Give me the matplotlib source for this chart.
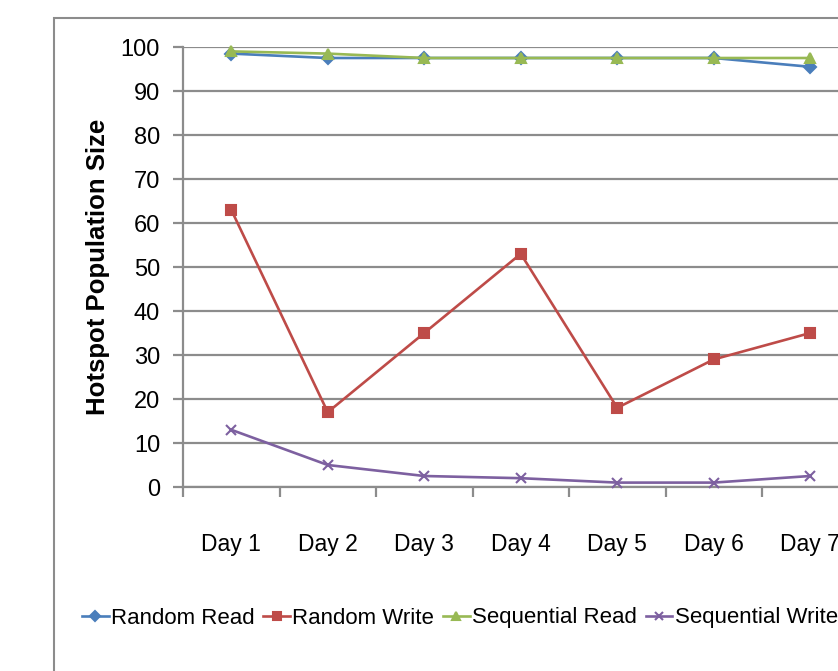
import matplotlib
matplotlib.use("Agg")
import matplotlib.pyplot as plt
from matplotlib.patches import Rectangle
from matplotlib import font_manager

days = ["Day 1", "Day 2", "Day 3", "Day 4", "Day 5", "Day 6", "Day 7"]
random_read = [98.5, 97.5, 97.5, 97.5, 97.5, 97.5, 95.5]
random_write = [63, 17, 35, 53, 18, 29, 35]
seq_read = [99, 98.5, 97.5, 97.5, 97.5, 97.5, 97.5]
seq_write = [13, 5, 2.5, 2, 1, 1, 2.5]

names = {f.name for f in font_manager.fontManager.ttflist}
fam = "Liberation Sans Narrow" if "Liberation Sans Narrow" in names else "Liberation Sans"
plt.rcParams["font.family"] = [fam, "DejaVu Sans"]

W, H = 838, 671
fig = plt.figure(figsize=(W / 100, H / 100), dpi=100)

# outer chart frame (runs off the right and bottom edges)
fig.patches.append(Rectangle((54 / W, -0.1), 1.2, 1 - 18 / H + 0.1,
                             transform=fig.transFigure, fill=False,
                             edgecolor="#8c8c8c", linewidth=1.5))

ax = fig.add_axes([183 / W, 1 - 487 / H, (858.5 - 183) / W, 440 / H])
ax.set_xlim(0, 7)
ax.set_ylim(0, 100)

xs = [i + 0.5 for i in range(len(days))]
series = [
    ("Random Read", random_read, "#4A7EBB", "D", 6),
    ("Random Write", random_write, "#BE4B48", "s", 7),
    ("Sequential Read", seq_read, "#98B954", "^", 7),
    ("Sequential Write", seq_write, "#7D60A0", "x", 7),
]
for label, vals, col, mk, ms in series:
    ax.plot(xs, vals, color=col, lw=1.9, marker=mk, ms=ms, mew=1.5,
            label=label, clip_on=False, zorder=3)

ax.set_yticks(range(0, 101, 10))
ax.yaxis.grid(True, color="#8c8c8c", lw=1.6)
ax.set_axisbelow(True)
for s in ("top", "right"):
    ax.spines[s].set_visible(False)
for s in ("left", "bottom"):
    ax.spines[s].set_color("#8c8c8c")
    ax.spines[s].set_linewidth(1.6)
ax.tick_params(axis="y", length=7.5, width=1.6, color="#8c8c8c",
               labelsize=17, pad=9)
ax.set_xticks(range(0, 8))
ax.set_xticklabels([])
ax.tick_params(axis="x", which="major", direction="out", length=7.5,
               width=1.6, color="#8c8c8c")
ax.set_xticks(xs, minor=True)
ax.set_xticklabels(days, minor=True, fontsize=16.5)
ax.tick_params(axis="x", which="minor", length=0, pad=33)

ax.set_ylabel("Hotspot Population Size", fontsize=18.5, fontweight="bold",
              labelpad=8, family=["Liberation Sans", "DejaVu Sans"])

fig.legend(loc="center left", bbox_to_anchor=(62 / W, 1 - 618 / H),
           ncol=4, frameon=False, fontsize=16, handlelength=1.2,
           handletextpad=0.1, columnspacing=0.4, markerscale=0.8)

fig.savefig("out.png", dpi=100)
